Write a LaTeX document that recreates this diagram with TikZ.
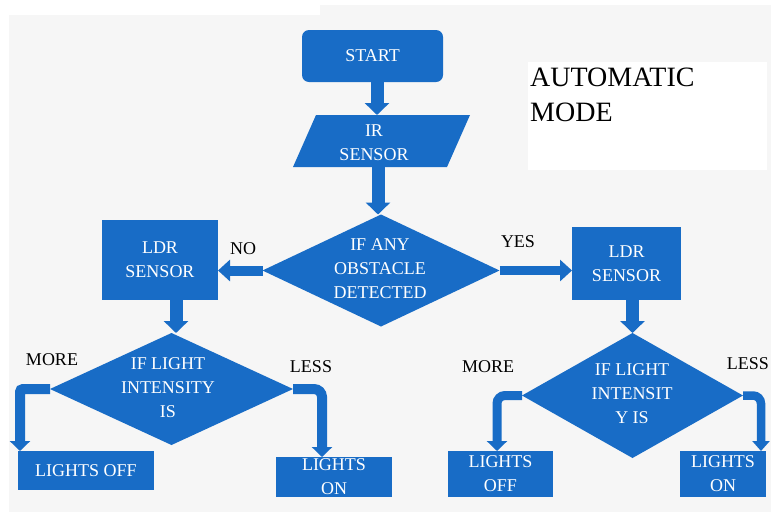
\documentclass[tikz,border=0pt]{standalone}
\usepackage{fontspec}
\setmainfont{Liberation Serif}
\usetikzlibrary{shapes.geometric,arrows.meta}
\definecolor{fc}{RGB}{24,108,198}
\definecolor{bg}{RGB}{246,246,246}
\begin{document}
\begin{tikzpicture}[x=1pt,y=-1pt,
  shapebox/.style={fill=fc, draw=none, inner sep=0pt, outer sep=0pt, text=white,
                   font=\fontsize{18}{24}\selectfont, align=center},
  dia/.style={diamond, fill=fc, draw=none, inner sep=0pt, outer sep=0pt},
  wtxt/.style={text=white, font=\fontsize{18}{24}\selectfont, align=center, inner sep=0pt},
  lbl/.style={text=black, font=\fontsize{18}{22}\selectfont, inner sep=0pt},
  blk/.style={draw=fc, line width=13pt, -{Triangle[length=12pt,width=24pt]}},
  thinarr/.style={draw=fc, line width=10pt, -{Triangle[length=12pt,width=21pt]}},
  bendarr/.style={draw=fc, line width=10pt, rounded corners=8pt, -{Triangle[length=10pt,width=20pt]}}]
\useasboundingbox (0,0) rectangle (771,512);
\clip (0,0) rectangle (771,512);
\fill[bg] (0,0) rectangle (771,512);
\fill[white] (0,0) rectangle (771,5);
\fill[white] (0,0) rectangle (320,15);
\fill[white] (0,0) rectangle (9,512);

% title
\node[fill=white, minimum width=239pt, minimum height=108pt, inner sep=0pt, anchor=north west] (autobox) at (528,62) {};
\node[anchor=north west, align=left, inner sep=0pt, font=\fontsize{28}{35}\selectfont] (automode) at (530,67.5) {AUTOMATIC\\MODE};

% shapes
\node[shapebox, rounded corners=7pt, minimum width=141pt, minimum height=52pt] (start) at (372.5,56) {START};
\fill[fc] (293,167) -- (316,115) -- (470,115) -- (447,167) -- cycle;
\node[wtxt] (ir) at (374,143) {IR\\SENSOR};
\coordinate (irT) at (377,115);
\coordinate (irB) at (378,167);

\node[dia, minimum width=237pt, minimum height=112pt] (d1) at (381,270.5) {};
\node[wtxt] (d1t) at (380,269) {IF ANY\\OBSTACLE\\DETECTED};

\node[shapebox, minimum width=116pt, minimum height=80pt] (ldrL) at (160,260) {LDR\\SENSOR};
\node[shapebox, minimum width=109pt, minimum height=73pt] (ldrR) at (626.5,263.5) {LDR\\SENSOR};

\node[dia, minimum width=243pt, minimum height=112pt] (d2) at (171.5,389) {};
\node[wtxt] (d2t) at (168,388) {IF LIGHT\\INTENSITY\\IS};

\node[dia, minimum width=221pt, minimum height=125pt] (d3) at (632.5,395.5) {};
\node[wtxt] (d3t) at (632,394) {IF LIGHT\\INTENSIT\\Y IS};

\node[shapebox, minimum width=136pt, minimum height=39pt] (offL) at (86,470.5) {LIGHTS OFF};
\node[shapebox, minimum width=116pt, minimum height=40pt] (onL) at (334,477) {LIGHTS\\ON};
\node[shapebox, minimum width=105pt, minimum height=46pt] (offR) at (500.5,474) {LIGHTS\\OFF};
\node[shapebox, minimum width=86pt, minimum height=46pt] (onR) at (723,474) {LIGHTS\\ON};

% connectors
\draw[blk] ([xshift=4.5pt]start.south) -- (irT);
\draw[blk] (irB) -- (irB |- d1.north);
\draw[thinarr] (d1.west) -- (d1.west -| ldrL.east);
\draw[thinarr, line width=9pt] (d1.east) -- (d1.east -| ldrR.west);
\draw[blk] ([xshift=16pt]ldrL.south) -- ([xshift=4.5pt]d2.north);
\draw[blk] (ldrR.south -| d3.north) -- (d3.north);
\draw[bendarr, rounded corners=3pt] (d2.west) -| ([xshift=-66pt]offL.north);
\draw[bendarr] (d2.east) -| ([xshift=-12pt]onL.north);
\draw[bendarr, line width=9pt] (d3.west) -| ([xshift=-3.5pt]offR.north);
\draw[bendarr, line width=8.5pt, -{Triangle[length=10pt,width=17pt]}] (d3.east) -| ([xshift=38pt]onR.north);

% labels
\node[lbl] (no) at (243,249) {NO};
\node[lbl] (yes) at (518,242) {YES};
\node[lbl] (moreL) at (52,360) {MORE};
\node[lbl] (lessL) at (311,367) {LESS};
\node[lbl] (moreR) at (488,367) {MORE};
\node[lbl, anchor=east] (lessR) at (769,364) {LESS};
\end{tikzpicture}
\end{document}
